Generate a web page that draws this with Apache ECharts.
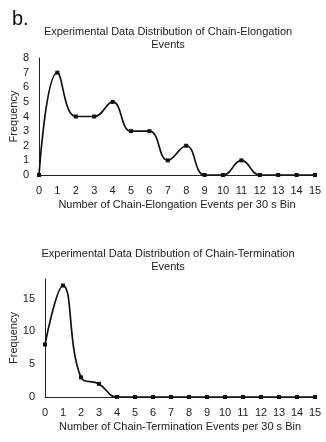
<!DOCTYPE html>
<html><head><meta charset="utf-8">
<script src="https://cdn.jsdelivr.net/npm/echarts@6/dist/echarts.min.js"></script>
<style>html,body{margin:0;padding:0;background:#fff}#c{width:326px;height:442px}</style>
</head><body><div id="c"></div>
<script>
const binsTop = [0,1,2,3,4,5,6,7,8,9,10,11,12,13,14,15];
const elongationFreq = [0,7,4,4,5,3,3,1,2,0,0,1,0,0,0,0];
const binsBottom = [0,1,2,3,4,5,6,7,8,9,10,11,12,13,14,15];
const terminationFreq = [8,17,3,2,0,0,0,0,0,0,0,0,0,0,0,0];
const xTicks = [0,1,2,3,4,5,6,7,8,9,10,11,12,13,14,15];

const font = 'Liberation Sans, Arial, sans-serif';
const chart = echarts.init(document.getElementById('c'), null, {renderer:'canvas'});
const axisLine = {show:true, lineStyle:{color:'#222', width:1}};
const lbl = {color:'#222', fontFamily:font, fontSize:11};
function xAxis(gi, name){
  return {type:'value', gridIndex:gi, min:0, max:15, interval:1,
    axisLine:axisLine, axisTick:{show:false}, splitLine:{show:false},
    axisLabel:Object.assign({margin:10, formatter:v=>xTicks.indexOf(v)>=0?String(v):''}, lbl),
    name:name, nameLocation:'middle', nameGap:24,
    nameTextStyle:{color:'#222', fontFamily:font, fontSize:11}};
}
function yAxis(gi, max, interval, showMax, gap){
  return {type:'value', gridIndex:gi, min:0, max:max, interval:interval,
    axisLine:axisLine, axisTick:{show:false}, splitLine:{show:false},
    axisLabel:Object.assign({margin:10, showMaxLabel:showMax}, lbl),
    name:'Frequency', nameLocation:'middle', nameGap:gap, nameRotate:90, nameMoveOverlap:false,
    nameTextStyle:{color:'#222', fontFamily:font, fontSize:11}};
}
function series(gi, xs, ys){
  return {type:'line', xAxisIndex:gi, yAxisIndex:gi, smooth:0.45,
    data: xs.map((x,i)=>[x, ys[i]]),
    symbol:'rect', symbolSize:4, showSymbol:true,
    lineStyle:{color:'#111', width:1.7}, itemStyle:{color:'#111'}, z:3};
}
chart.setOption({
  animation:false,
  backgroundColor:'#fff',
  title:[
    {text:'b.', left:7, top:4, textStyle:{fontFamily:font, fontSize:20, fontWeight:'normal', color:'#111'}},
    {text:'Experimental Data Distribution of Chain-Elongation\nEvents', left:163, top:20, textAlign:'center',
     textStyle:{fontFamily:font, fontSize:11, fontWeight:'normal', color:'#222', lineHeight:13, align:'center'}},
    {text:'Experimental Data Distribution of Chain-Termination\nEvents', left:163, top:242, textAlign:'center',
     textStyle:{fontFamily:font, fontSize:11, fontWeight:'normal', color:'#222', lineHeight:13, align:'center'}}
  ],
  grid:[
    {left:39, right:11, top:58, height:117, containLabel:false, outerBoundsMode:'none'},
    {left:45, right:11, top:279, height:118, containLabel:false, outerBoundsMode:'none'}
  ],
  xAxis:[xAxis(0,'Number of Chain-Elongation Events per 30 s Bin'), xAxis(1,'Number of Chain-Termination Events per 30 s Bin')],
  yAxis:[yAxis(0,8,1,true,20), yAxis(1,18,5,false,26)],
  series:[series(0, binsTop, elongationFreq), series(1, binsBottom, terminationFreq)]
});
</script></body></html>
